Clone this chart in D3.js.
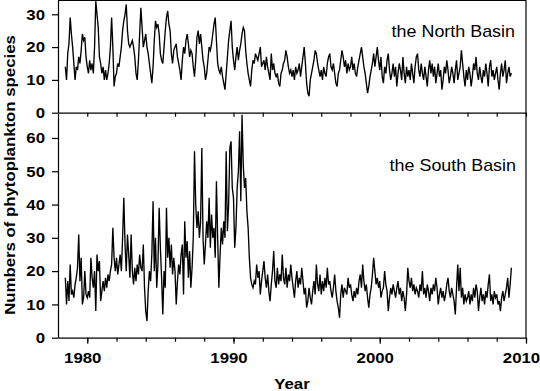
<!DOCTYPE html>
<html>
	<head>
		<meta charset="utf-8">
		<script src="https://cdnjs.cloudflare.com/ajax/libs/d3/7.8.5/d3.min.js" charset="utf-8"></script>
		<style>
			body { margin: 0; background: #fff; }
			svg { display: block; font-family: 'Liberation Sans', Arial, sans-serif; }
		</style>
	</head>
	<body>
		<div id="chart"></div>
		<script>
			//////////////////////////////// Data //////////////////////////////
			// monthly counts, first value = July 1978
			var startYear = 1978.5;

			var northBasin = [
				14, 10, 18, 21, 29, 24,
				20, 15, 10, 14, 13, 17, 15, 19, 24, 22, 23, 17,
				14, 12, 16, 13, 15, 12, 20, 34, 30, 26, 17, 15,
				12, 14, 10, 13, 10, 12, 15, 20, 29, 20, 8, 11,
				12, 15, 14, 17, 20, 25, 28, 30, 33, 25, 21, 20,
				21, 22, 20, 17, 12, 10, 16, 24, 32, 26, 20, 22,
				24, 20, 18, 15, 12, 9, 14, 22, 28, 26, 27, 24,
				18, 16, 15, 20, 25, 29, 31, 27, 25, 18, 15, 19,
				20, 21, 17, 15, 13, 10, 16, 20, 18, 22, 24, 21,
				17, 19, 18, 14, 11, 16, 23, 25, 21, 24, 20, 16,
				14, 10, 12, 16, 20, 19, 21, 24, 27, 29, 22, 15,
				13, 12, 14, 11, 9, 7, 12, 17, 22, 25, 28, 20,
				16, 13, 17, 20, 16, 19, 21, 24, 26, 25, 19, 15,
				12, 10, 8, 13, 16, 15, 18, 17, 16, 18, 20, 14,
				15, 16, 13, 17, 14, 12, 10, 18, 13, 15, 12, 11,
				12, 9, 8, 12, 13, 15, 16, 19, 17, 14, 12, 13,
				11, 13, 10, 14, 12, 13, 15, 11, 14, 17, 20, 15,
				9, 6, 5, 10, 12, 14, 16, 19, 18, 15, 13, 11,
				13, 10, 14, 12, 11, 15, 17, 18, 14, 13, 15, 12,
				9, 8, 12, 13, 16, 19, 17, 14, 16, 12, 15, 13,
				14, 17, 13, 15, 12, 11, 14, 16, 18, 20, 17, 14,
				12, 9, 6, 8, 11, 13, 15, 18, 14, 17, 20, 16,
				13, 17, 11, 9, 14, 12, 16, 18, 13, 10, 12, 15,
				11, 14, 8, 12, 15, 13, 10, 17, 12, 9, 14, 11,
				13, 10, 15, 12, 9, 14, 17, 18, 13, 11, 15, 12,
				10, 14, 11, 8, 13, 16, 12, 15, 11, 14, 9, 12,
				15, 11, 13, 7, 10, 14, 12, 16, 13, 9, 11, 14,
				12, 9, 13, 16, 10, 12, 14, 19, 15, 11, 8, 13,
				10, 14, 12, 8, 11, 15, 13, 17, 12, 10, 14, 11,
				9, 13, 11, 15, 12, 8, 14, 16, 11, 13, 10, 12,
				14, 10, 7, 12, 15, 11, 13, 16, 9, 12, 14, 11,
				12
			];

			var southBasin = [
				18, 10, 17, 11, 22, 13,
				14, 12, 16, 18, 21, 31, 17, 24, 10, 12, 20, 13,
				12, 14, 12, 24, 18, 15, 20, 8, 25, 20, 23, 11,
				14, 17, 14, 18, 15, 19, 17, 20, 22, 33, 24, 20,
				24, 19, 22, 25, 20, 30, 42, 28, 20, 31, 25, 18,
				31, 20, 16, 21, 17, 22, 19, 25, 21, 20, 28, 15,
				8, 5, 14, 20, 17, 25, 41, 20, 30, 15, 22, 39,
				27, 18, 7, 20, 15, 39, 24, 30, 21, 28, 19, 24,
				20, 10, 17, 22, 19, 25, 28, 13, 35, 24, 29, 18,
				26, 15, 21, 30, 56, 40, 33, 38, 30, 35, 57, 30,
				22, 28, 35, 30, 42, 27, 37, 30, 33, 24, 47, 30,
				15, 25, 33, 28, 35, 30, 56, 32, 40, 57, 59, 45,
				42, 27, 33, 45, 50, 62, 41, 67, 52, 45, 48, 38,
				33, 24, 18, 16, 15, 17, 16, 22, 18, 20, 13, 17,
				20, 23, 18, 15, 19, 14, 11, 16, 20, 26, 17, 15,
				21, 16, 19, 17, 25, 18, 16, 21, 15, 19, 17, 22,
				18, 15, 12, 17, 20, 15, 18, 16, 21, 17, 13, 15,
				9, 11, 15, 12, 10, 14, 17, 13, 22, 16, 14, 19,
				13, 17, 14, 18, 15, 21, 16, 17, 14, 12, 15, 19,
				14, 11, 9, 6, 13, 16, 12, 15, 14, 13, 18, 15,
				16, 13, 11, 14, 12, 15, 13, 17, 19, 15, 22, 17,
				14, 16, 12, 9, 13, 15, 19, 24, 20, 16, 18, 15,
				17, 12, 14, 15, 20, 16, 14, 8, 12, 15, 13, 16,
				14, 12, 15, 17, 13, 15, 11, 14, 12, 8, 13, 21,
				17, 15, 18, 14, 16, 13, 15, 14, 12, 16, 14, 20,
				13, 15, 12, 16, 14, 11, 15, 13, 16, 14, 18, 15,
				10, 13, 15, 12, 14, 11, 13, 16, 18, 14, 12, 15,
				13, 11, 7, 15, 22, 14, 21, 12, 15, 10, 13, 11,
				12, 14, 10, 13, 11, 15, 12, 16, 14, 8, 12, 15,
				11, 13, 10, 14, 12, 16, 19, 11, 13, 10, 14, 12,
				13, 10, 11, 8, 12, 14, 11, 13, 15, 18, 12, 16,
				21
			];

			var xMajorTicks = [1980, 1990, 2000, 2010];
			var xMinorTicks = d3.range(1980, 2011, 2);
			var northTicks = [0, 10, 20, 30];
			var southTicks = [0, 10, 20, 30, 40, 50, 60];

			var northLabel = "the North Basin",
				southLabel = "the South Basin";

			//////////////////////////////// Setup //////////////////////////////
			var width = 540, height = 391;
			var left = 58, right = 526;
			var stretch = "scale(1.12,1)";

			var svg = d3.select("#chart").append("svg")
				.attr("width", width)
				.attr("height", height);

			var x = d3.scaleLinear().domain([1978, 2010]).range([left, right]);
			var yN = d3.scaleLinear().domain([0, 34.2]).range([112.7, 0.5]);
			var yS = d3.scaleLinear().domain([0, 67.5]).range([337.7, 113]);

			function toPoints(arr) {
				return arr.map(function(v, i) { return { year: startYear + i / 12, value: v }; });
			}

			svg.append("clipPath").attr("id", "clipN")
				.append("rect").attr("x", left).attr("y", 0.5).attr("width", right - left).attr("height", 112.2);
			svg.append("clipPath").attr("id", "clipS")
				.append("rect").attr("x", left).attr("y", 113).attr("width", right - left).attr("height", 224.7);

			//////////////////////////////// Lines //////////////////////////////
			var lineN = d3.line().x(function(d) { return x(d.year); }).y(function(d) { return yN(d.value); });
			var lineS = d3.line().x(function(d) { return x(d.year); }).y(function(d) { return yS(d.value); });

			svg.append("path")
				.datum(toPoints(northBasin))
				.attr("clip-path", "url(#clipN)")
				.attr("d", lineN)
				.style("fill", "none")
				.style("stroke", "#000")
				.style("stroke-width", 1.35);

			svg.append("path")
				.datum(toPoints(southBasin))
				.attr("clip-path", "url(#clipS)")
				.attr("d", lineS)
				.style("fill", "none")
				.style("stroke", "#000")
				.style("stroke-width", 1.35);

			//////////////////////////////// Axes //////////////////////////////
			function styleAxis(g) {
				g.selectAll("path, line").style("stroke", "#000").style("stroke-width", 1.2);
				g.selectAll("text")
					.style("font-family", "'Liberation Sans', Arial, sans-serif")
					.style("font-size", "15px")
					.style("font-weight", "bold")
					.style("fill", "#000")
					.attr("transform", stretch);
			}

			// left axes
			svg.append("g").attr("transform", "translate(" + left + ",0)")
				.call(d3.axisLeft(yN).tickValues(northTicks).tickSize(6).tickSizeOuter(0).tickPadding(5.6))
				.call(styleAxis);
			svg.append("g").attr("transform", "translate(" + left + ",0)")
				.call(d3.axisLeft(yS).tickValues(southTicks).tickSize(6).tickSizeOuter(0).tickPadding(5.6))
				.call(styleAxis);

			// x axis between panels (ticks only)
			svg.append("g").attr("transform", "translate(0," + yN(0) + ")")
				.call(d3.axisBottom(x).tickValues(xMinorTicks).tickSize(4).tickSizeOuter(0).tickFormat(""))
				.call(styleAxis);

			// bottom x axis
			svg.append("g").attr("transform", "translate(0," + yS(0) + ")")
				.call(d3.axisBottom(x).tickValues(xMinorTicks).tickSize(4).tickSizeOuter(0).tickFormat(""))
				.call(styleAxis);
			svg.append("g").attr("transform", "translate(0," + yS(0) + ")")
				.call(d3.axisBottom(x).tickValues(xMajorTicks).tickSize(6).tickSizeOuter(0).tickPadding(9).tickFormat(d3.format("d")))
				.call(styleAxis)
				.call(function(g) { g.select(".domain").remove(); g.selectAll("text").attr("x", -4.5); });

			// frame: top and right edges
			svg.append("line")
				.attr("x1", left).attr("x2", right).attr("y1", 0.5).attr("y2", 0.5)
				.style("stroke", "#000").style("stroke-width", 1.2);
			svg.append("line")
				.attr("x1", right).attr("x2", right).attr("y1", 0).attr("y2", yS(0))
				.style("stroke", "#000").style("stroke-width", 1.2);

			//////////////////////////////// Labels //////////////////////////////
			svg.append("g").attr("transform", "translate(515,37)")
				.append("text")
				.attr("text-anchor", "end")
				.attr("transform", stretch)
				.style("font-size", "16px")
				.text(northLabel);

			svg.append("g").attr("transform", "translate(516,171)")
				.append("text")
				.attr("text-anchor", "end")
				.attr("transform", stretch)
				.style("font-size", "16px")
				.text(southLabel);

			svg.append("g").attr("transform", "translate(292,389)")
				.append("text")
				.attr("text-anchor", "middle")
				.attr("transform", stretch)
				.style("font-size", "15px")
				.style("font-weight", "bold")
				.text("Year");

			svg.append("g").attr("transform", "translate(15,175) rotate(-90)")
				.append("text")
				.attr("text-anchor", "middle")
				.attr("transform", stretch)
				.style("font-size", "15px")
				.style("font-weight", "bold")
				.text("Numbers of phytoplankton species");
		</script>
	</body>
</html>
